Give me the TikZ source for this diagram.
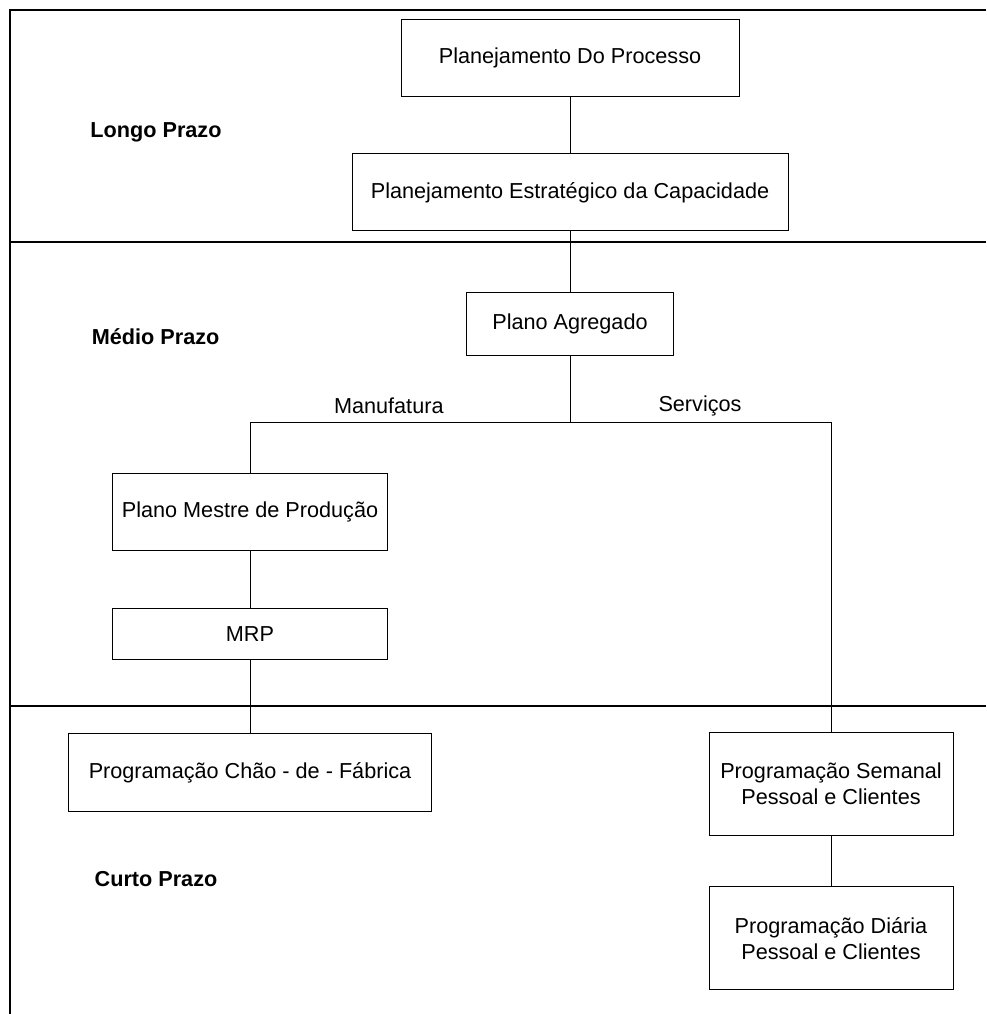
\documentclass[tikz,border=0pt]{standalone}
\usepackage{fontspec}
\setmainfont{Liberation Sans}
\usepackage{tikz}

\begin{document}
\begin{tikzpicture}[
	caixa/.style={draw, line width=0.6pt, align=center, inner sep=0pt, font=\fontsize{15.4}{18.5}\selectfont},
	prazo/.style={font=\fontsize{15.4}{18.5}\selectfont\bfseries},
	ramo/.style={font=\fontsize{15.4}{18.5}\selectfont},
	liga/.style={line width=0.6pt},
	faixa/.style={line width=1.1pt}]
			\useasboundingbox (0, 0) rectangle (24.65, 25.35);

			% Moldura e faixas de prazo
			\draw[faixa] (24.65, 25.1) -- (0.25, 25.1) -- (0.25, 0);
			\draw[faixa] (0.25, 19.3) -- (24.65, 19.3);
			\draw[faixa] (0.25, 7.7) -- (24.65, 7.7);

			% Nomes das faixas
			\node[prazo] (longo) at (3.9, 22.05) {Longo Prazo};
			\node[prazo] (medio) at (3.89, 16.93) {Médio Prazo};
			\node[prazo] (curto) at (3.9, 3.38) {Curto Prazo};

			% Caixas do longo e médio prazo
			\node[caixa, minimum width=8.45cm, minimum height=1.925cm] (processo) at (14.25, 23.89) {Planejamento Do Processo};
			\node[caixa, minimum width=10.9cm, minimum height=1.925cm] (estrategico) at (14.25, 20.54) {Planejamento Estratégico da Capacidade};
			\node[caixa, minimum width=5.175cm, minimum height=1.575cm] (agregado) at (14.25, 17.24) {Plano Agregado};
			\node[caixa, minimum width=6.875cm, minimum height=1.925cm] (mestre) at (6.25, 12.54) {Plano Mestre de Produção};
			\node[caixa, minimum width=6.875cm, minimum height=1.275cm] (mrp) at (6.25, 9.51) {MRP};

			% Caixas do curto prazo
			\node[caixa, minimum width=9.075cm, minimum height=1.95cm] (chao) at (6.25, 6.03) {Programação Chão - de - Fábrica};
			\node[caixa, minimum width=6.1cm, minimum height=2.575cm] (semanal) at (20.775, 5.76) {Programação Semanal\\Pessoal e Clientes};
			\node[caixa, minimum width=6.1cm, minimum height=2.575cm] (diaria) at (20.775, 1.89) {Programação Diária\\Pessoal e Clientes};

			% Ramificação manufatura / serviços
			\coordinate (manuf) at (6.25, 14.8);
			\coordinate (serv) at (20.775, 14.8);
			\node[ramo] (lmanuf) at (9.72, 15.2) {Manufatura};
			\node[ramo] (lserv) at (17.5, 15.2) {Serviços};

			% Ligações
			\draw[liga] (processo) -- (estrategico);
			\draw[liga] (estrategico) -- (agregado);
			\draw[liga] (agregado) -- (agregado |- manuf);
			\draw[liga] (mestre) -- (manuf) -- (serv) -- (semanal);
			\draw[liga] (mestre) -- (mrp);
			\draw[liga] (mrp) -- (chao);
			\draw[liga] (semanal) -- (diaria);
		\end{tikzpicture}
\end{document}
